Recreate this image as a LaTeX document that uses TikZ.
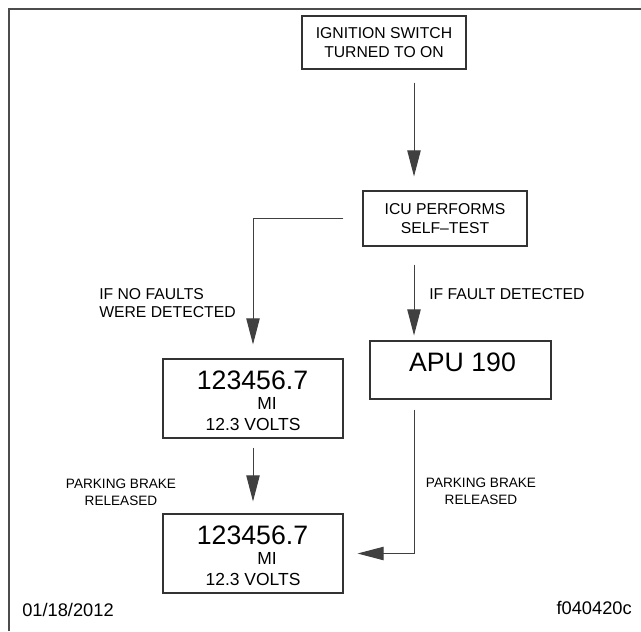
\documentclass[tikz,border=0pt]{standalone}
\usepackage{fontspec}
\setmainfont{Liberation Sans}
\usetikzlibrary{arrows.meta}

\begin{document}
\begin{tikzpicture}[
  x=0.75pt, y=-0.75pt,
  box/.style={draw=black!80, line width=0.8pt, inner sep=0pt, align=center},
  flow/.style={draw=black!75, line width=0.75pt, -{Triangle[length=19.5pt,width=10pt]}},
  lbl/.style={font=\fontsize{11.8}{14}\selectfont, inner sep=0pt},
  note/.style={font=\fontsize{10.2}{12.75}\selectfont, inner sep=0pt, align=center},
  big/.style={font=\fontsize{20}{24}\selectfont, inner sep=0pt},
  mid/.style={font=\fontsize{13.1}{15}\selectfont, inner sep=0pt},
  tag/.style={font=\fontsize{13.7}{16}\selectfont, inner sep=0pt}
]
\useasboundingbox (0,0) rectangle (641,631);
\draw[black!70, line width=1.5pt] (9,631) -- (9,9) -- (641,9);

\node[box, lbl, minimum width=123pt, minimum height=39.75pt] (ign) at (384,42.5)
  {IGNITION SWITCH\\TURNED TO ON};
\node[box, lbl, minimum width=123pt, minimum height=41.25pt] (icu) at (445,218.5)
  {ICU PERFORMS\\SELF–TEST};

\node[box, minimum width=135pt, minimum height=59.25pt] (odo1) at (253,398.5) {};
\node[big] (odo1mi) at (252.5,380) {123456.7};
\node[mid] (odo1unit) at (267,403.5) {MI};
\node[mid] (odo1volt) at (253,424) {12.3 VOLTS};

\node[box, minimum width=135.75pt, minimum height=43.5pt] (apu) at (460.5,370) {};
\node[big] (apucode) at (462.5,362) {APU 190};

\node[box, minimum width=135pt, minimum height=59.25pt] (odo2) at (253,553.5) {};
\node[big] (odo2mi) at (252.5,535) {123456.7};
\node[mid] (odo2unit) at (267,558) {MI};
\node[mid] (odo2volt) at (253,579) {12.3 VOLTS};

\node[lbl, align=left, anchor=west] (nofault) at (99,303) {IF NO FAULTS\\WERE DETECTED};
\node[lbl, anchor=west] (fault) at (429,294) {IF FAULT DETECTED};
\node[note] (brakeleft) at (121,492) {PARKING BRAKE\\RELEASED};
\node[note] (brakeright) at (481,491.5) {PARKING BRAKE\\RELEASED};
\node[tag, anchor=west] (date) at (22,610) {01/18/2012};
\node[tag, anchor=east] (figno) at (632,608) {f040420c};

\coordinate (col) at (414,0);
\draw[flow, shorten <=9.75pt, shorten >=10.5pt] (ign.south -| col) -- (icu.north -| col);
\draw[flow] ([xshift=-14.25pt]icu.west) -| ([yshift=10.5pt]odo1.north);
\draw[flow, shorten <=13.5pt, shorten >=3.75pt] (icu.south -| col) -- (apu.north -| col);
\draw[flow] ([yshift=-7.5pt]apu.south -| col) |- ([xshift=10.5pt]odo2.east);
\draw[flow, shorten <=6.75pt, shorten >=9pt] (odo1) -- (odo2);
\end{tikzpicture}
\end{document}
